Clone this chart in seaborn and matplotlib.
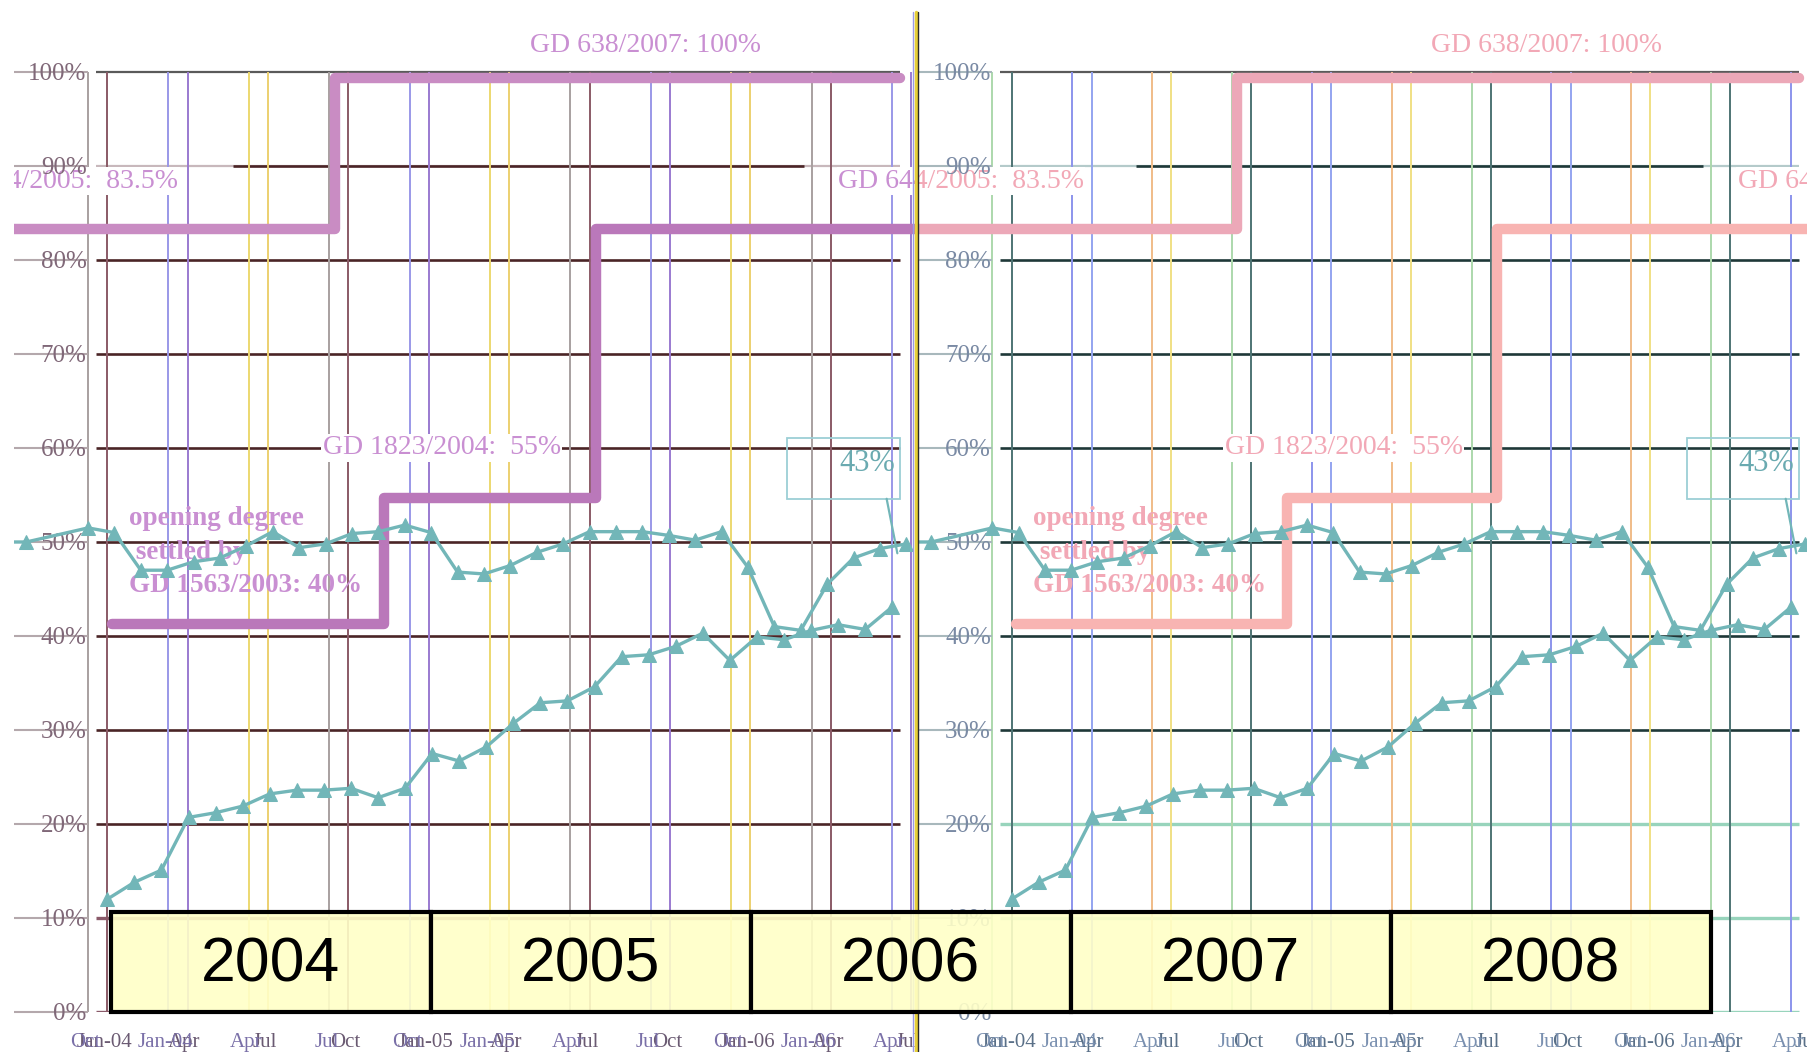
import numpy as np
import matplotlib.pyplot as plt
from matplotlib.patches import Rectangle
from matplotlib.lines import Line2D
import seaborn as sns


# ─────────────────────────────────────────────
#  Data
# ─────────────────────────────────────────────

# monthly market share, %, first sheet (Jan-04 .. Aug-06)
upper_share = [51.5, 51.0, 47.0, 47.0, 47.9, 48.3, 49.6, 51.1, 49.4, 49.8,
               50.9, 51.1, 51.8, 51.0, 46.8, 46.6, 47.5, 48.9, 49.8, 51.1,
               51.1, 51.1, 50.7, 50.2, 51.1, 47.3, 41.0, 40.6, 45.5, 48.3,
               49.3, 49.8]
upper_carry = [50.0, 50.0]      # tail of the previous sheet, left of the axis
carry_months = [-3.4, -2.3]

# monthly market share, %, second sheet
lower_share = [12.0, 13.8, 15.1, 20.7, 21.2, 21.9, 23.2, 23.6, 23.6, 23.8,
               22.8, 23.8, 27.5, 26.7, 28.2, 30.7, 32.9, 33.1, 34.6, 37.8,
               38.0, 38.9, 40.3, 37.4, 39.9, 39.6, 40.6, 41.2, 40.7, 43.1]

# legal opening degree, % (step lines)
step_a_months = [-4.0, 9.2, 30.3]
step_a_levels = [83.3, 99.4, 99.4]
step_b_months = [0.88, 11.05, 18.95, 40.0]
step_b_levels = [41.3, 54.7, 83.3, 83.3]

y_ticks = [0, 10, 20, 30, 40, 50, 60, 70, 80, 90, 100]
y_labels = [f"{v}%" for v in y_ticks]
quarter_labels_a = ["Jan-04", "Apr", "Jul", "Oct", "Jan-05", "Apr", "Jul",
                    "Oct", "Jan-06", "Apr", "Jul"]
quarter_labels_b = ["Oct", "Jan-04", "Apr", "Jul", "Oct", "Jan-05", "Apr",
                    "Jul", "Oct", "Jan-06", "Apr"]
years = [2004, 2005, 2006, 2007, 2008]


# ─────────────────────────────────────────────
#  Geometry (pixels of the 1807x1052 output)
# ─────────────────────────────────────────────

FIG_W, FIG_H = 1807, 1052
PX_MONTH = 26.8          # one month on the x axis
PX_PCT = 9.4             # one percent on the y axis
ZERO_Y = 1012            # pixel row of 0 %
PERIOD = 905 / PX_MONTH  # the sheet repeats every 905 px
SHIFT_B = 0.72           # second overlaid sheet is offset by this many months

PAL_LEFT = dict(
    step_a="#c98cc3", step_b="#ba78ba", text="#c98fd2",
    dark="#4a2426", light="#c8b8bc", low="#8a5a6a",
    vgrid_a=["#a8a0a0", "#9a98e8", "#ecd870"],
    vgrid_b=["#8a5a66", "#9a7ad0", "#ecd070"],
    ytick="#b4a8ac", ylab="#806878", xlab_a="#6a5a72", xlab_b="#7a70a8",
)
PAL_RIGHT = dict(
    step_a="#eca8b8", step_b="#f8b4b2", text="#f2a8b6",
    dark="#1e3838", light="#b4caca", low="#98d4bc",
    vgrid_a=["#acd8ac", "#8c94ec", "#f0bc88"],
    vgrid_b=["#4e7474", "#94a4f0", "#f0e084"],
    ytick="#a8b8bc", ylab="#7a8aa4", xlab_a="#5a7088", xlab_b="#7a90b0",
)
TEAL = "#72b6b8"


def draw_sheet(ax, axis_px, left_px, right_px, pal):
    """One copy of the scanned chart, clipped to [left_px, right_px]."""
    ax.set_xlim((left_px - axis_px) / PX_MONTH, (right_px - axis_px) / PX_MONTH)
    ax.set_ylim(0, ZERO_Y / PX_PCT)
    ax.set_facecolor("none")
    for s in ax.spines.values():
        s.set_visible(False)
    ax.spines["left"].set_position(("data", 0))

    # horizontal grid
    for v in y_ticks:
        if v == 90:
            ax.hlines(v, 0.3, 30.3, color=pal["light"], lw=1.6, zorder=1)
            ax.hlines(v, 5.4, 26.7, color=pal["dark"], lw=1.9, zorder=1)
            continue
        if v <= (10 if pal is PAL_LEFT else 20):
            col, lw = pal["low"], 2.4
        elif v == 100:
            col, lw = "#5a5a5a", 1.6
        else:
            col, lw = pal["dark"], 1.9
        ax.hlines(v, 0.3, 30.3, color=col, lw=lw, zorder=1)

    # vertical grid, two overlaid sheets
    quarters = np.arange(len(quarter_labels_a)) * 3
    for k, q in enumerate(quarters):
        ax.vlines(q, 0, 100, color=pal["vgrid_a"][k % 3], lw=1.4, zorder=1)
        ax.vlines(q + SHIFT_B, 0, 100, color=pal["vgrid_b"][k % 3], lw=1.4, zorder=1)

    # legal opening degree
    ax.plot(step_a_months, step_a_levels, drawstyle="steps-post",
            color=pal["step_a"], lw=7.5, zorder=2)
    ax.plot(step_b_months, step_b_levels, drawstyle="steps-post",
            color=pal["step_b"], lw=7.5, zorder=2)

    # labels of the steps
    txt = dict(color=pal["text"], fontsize=20, clip_on=True, zorder=3)
    wbox = dict(fc="white", ec="none", pad=1)
    ax.text(20.8, 102.8, "GD 638/2007: 100%", ha="center", va="center", **txt)
    for shift in (0.0, -PERIOD):
        ax.text(28.0 + shift, 88.4, "GD 644/2005:  83.5%", ha="left",
                va="center", bbox=wbox, **txt)
    ax.text(13.2, 60.0, "GD 1823/2004:  55%", ha="center", va="center",
            bbox=wbox, **txt)
    ax.text(1.53, 48.9, "opening degree\n settled by\nGD 1563/2003: 40%",
            ha="left", va="center", linespacing=1.45, color=pal["text"],
            fontsize=19.5, fontweight="bold", clip_on=True, zorder=3)

    # market share series
    upper_x = np.concatenate([carry_months, np.arange(len(upper_share)) * 0.985])
    upper_y = np.concatenate([upper_carry, upper_share])
    lower_x = SHIFT_B + np.arange(len(lower_share)) * 1.01
    for xs, ys in ((upper_x, upper_y), (lower_x, lower_share)):
        sns.lineplot(x=xs, y=ys, ax=ax, color=TEAL, lw=2.4, marker="^",
                     markersize=10, markeredgecolor=TEAL, sort=False,
                     legend=False, zorder=4)

    # 43 % call-out
    ax.add_patch(Rectangle((26.1, 54.6), 4.2, 6.5, fill=False,
                           ec="#9ccfd6", lw=1.3, zorder=5))
    ax.text(30.1, 58.4, "43%", ha="right", va="center", color="#6aaab0",
            fontsize=22, zorder=5, clip_on=True)
    ax.plot([29.8, 30.2], [54.6, 48.8], color=TEAL, lw=1.6, zorder=5)

    # axes ticks
    ax.set_yticks(y_ticks, y_labels)
    tick_len = (axis_px - left_px) / 1.389
    ax.tick_params(axis="y", left=True, direction="out", length=tick_len,
                   width=1.5, color=pal["ytick"], pad=1.0 - tick_len,
                   labelsize=18, labelcolor=pal["ylab"])
    ax.yaxis.set_zorder(3.5)
    ax.set_xticks(quarters + 0.6, quarter_labels_a)
    ax.set_xticks(quarters - 0.1, quarter_labels_b, minor=True)
    ax.tick_params(axis="x", which="both", bottom=True, length=0, pad=15,
                   labelsize=15)
    ax.tick_params(axis="x", which="major", labelcolor=pal["xlab_a"])
    ax.tick_params(axis="x", which="minor", labelcolor=pal["xlab_b"])
    ax.set_xlabel("")
    ax.set_ylabel("")


sns.set_theme(style="white")
plt.rcParams["font.family"] = ["Liberation Serif", "DejaVu Serif"]

fig = plt.figure(figsize=(FIG_W / 100, FIG_H / 100), dpi=100)
bottom = (FIG_H - ZERO_Y) / FIG_H
height = ZERO_Y / FIG_H

ax_l = fig.add_axes([14 / FIG_W, bottom, (917 - 14) / FIG_W, height])
draw_sheet(ax_l, 88, 14, 917, PAL_LEFT)

ax_r = fig.add_axes([917 / FIG_W, bottom, (FIG_W - 917) / FIG_W, height])
draw_sheet(ax_r, 993, 917, FIG_W, PAL_RIGHT)

# seam between the two copies (under the year banner)
for px, col, lw in ((913, "#9a9ae6", 1.0), (916, "#e6cf3a", 2.5), (918, "#2a2a2a", 1.0)):
    fig.add_artist(Line2D([px / FIG_W] * 2, [0, 1 - 12 / FIG_H],
                          color=col, lw=lw, zorder=0.5))

# year banner
bax = fig.add_axes([111 / FIG_W, bottom, 1600 / FIG_W, 100 / FIG_H])
bax.set_zorder(1)
bax.bar(years, 1, width=1, align="edge", color=(1.0, 1.0, 0.78, 0.9),
        edgecolor="black", linewidth=3, clip_on=False)
for y in years:
    bax.text(y + 0.5, 0.47, str(y), ha="center", va="center", fontsize=45,
             family="Liberation Sans", color="black")
bax.set_xlim(years[0], years[-1] + 1)
bax.set_ylim(0, 1)
bax.axis("off")

fig.savefig("out.png", dpi=100)
plt.close(fig)
